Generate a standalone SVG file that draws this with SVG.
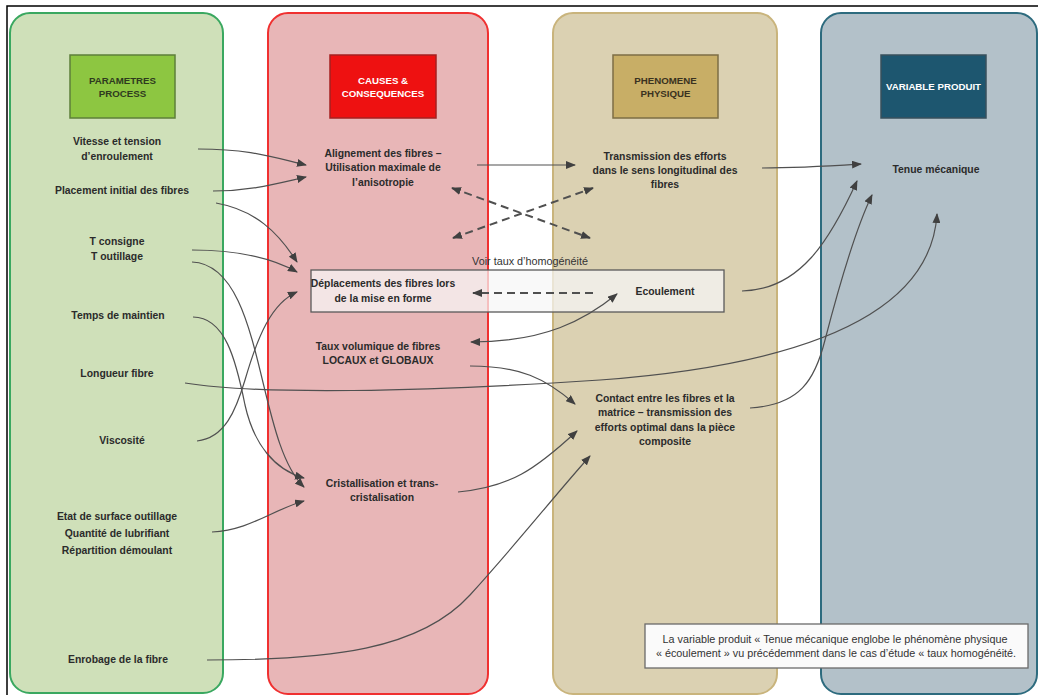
<svg xmlns="http://www.w3.org/2000/svg" width="1038" height="695" viewBox="0 0 1038 695">
<defs>
<style>
.col{stroke-width:2}
.hdr{stroke-width:1.5}
.lbl{font-family:"Liberation Sans",Arial,sans-serif;font-weight:bold;font-size:10.4px;fill:#2b2b2b;text-anchor:middle}
.htx{font-family:"Liberation Sans",Arial,sans-serif;font-weight:bold;font-size:9.7px;text-anchor:middle}
.note{font-family:"Liberation Sans",Arial,sans-serif;font-size:10.8px;fill:#333;text-anchor:middle}
.con path{fill:none;stroke:#505050;stroke-width:1.2}
.con .dash{stroke-width:2;stroke-dasharray:8 5}
</style>
<marker id="ah" viewBox="0 0 10 8" refX="9" refY="4" markerWidth="10" markerHeight="8" markerUnits="userSpaceOnUse" orient="auto-start-reverse">
<path d="M0,0 L10,4 L0,8 z" fill="#404040"/>
</marker>
</defs>
<rect x="0" y="0" width="1038" height="695" fill="#ffffff"/>
<path d="M7,700 L7,6 L1040,6" fill="none" stroke="#000" stroke-width="1.5"/>

<g id="col-process">
<rect class="col" x="10" y="13" width="213" height="680" rx="20" fill="#cfe0b9" stroke="#3aa860"/>
<rect class="hdr" x="70" y="55" width="105" height="63" fill="#8dc641" stroke="#5e7f3a"/>
<text class="htx" fill="#2f3a1f"><tspan x="122.5" y="84">PARAMETRES</tspan><tspan x="122.5" y="97">PROCESS</tspan></text>
</g>
<g id="col-causes">
<rect class="col" x="268" y="13" width="220" height="681" rx="20" fill="#e8b6b7" stroke="#f03030"/>
<rect class="hdr" x="330" y="55" width="106" height="63" fill="#ee1111" stroke="#a52020"/>
<text class="htx" fill="#ffffff"><tspan x="383" y="84">CAUSES &amp;</tspan><tspan x="383" y="97">CONSEQUENCES</tspan></text>
</g>
<g id="col-phenomene">
<rect class="col" x="553" y="13" width="224" height="681" rx="20" fill="#dbd1b2" stroke="#c9b47c"/>
<rect class="hdr" x="613" y="55" width="105" height="63" fill="#c8ae66" stroke="#7d6e45"/>
<text class="htx" fill="#3a3220"><tspan x="665.5" y="84">PHENOMENE</tspan><tspan x="665.5" y="97">PHYSIQUE</tspan></text>
</g>
<g id="col-variable">
<rect class="col" x="821" y="13" width="216" height="681" rx="20" fill="#b3c1c9" stroke="#2d6b7e"/>
<rect class="hdr" x="881" y="55" width="105" height="63" fill="#1d566f" stroke="#38505c"/>
<text class="htx" fill="#ffffff" x="933.5" y="90">VARIABLE PRODUIT</text>
</g>

<g id="n-vitesse"><text class="lbl"><tspan x="117" y="145">Vitesse et tension</tspan><tspan x="117" y="160">d’enroulement</tspan></text></g>
<g id="n-placement"><text class="lbl" x="122" y="194">Placement initial des fibres</text></g>
<g id="n-temp"><text class="lbl"><tspan x="117" y="245">T consigne</tspan><tspan x="117" y="260">T outillage</tspan></text></g>
<g id="n-temps"><text class="lbl" x="118" y="319">Temps de maintien</text></g>
<g id="n-longueur"><text class="lbl" x="117" y="377">Longueur fibre</text></g>
<g id="n-viscosite"><text class="lbl" x="122" y="444">Viscosité</text></g>
<g id="n-surface"><text class="lbl"><tspan x="117" y="520">Etat de surface outillage</tspan><tspan x="117" y="537">Quantité de lubrifiant</tspan><tspan x="117" y="554">Répartition démoulant</tspan></text></g>
<g id="n-enrobage"><text class="lbl" x="118" y="663">Enrobage de la fibre</text></g>

<g id="n-alignement"><text class="lbl"><tspan x="383" y="157">Alignement des fibres –</tspan><tspan x="383" y="171">Utilisation maximale de</tspan><tspan x="383" y="186">l’anisotropie</tspan></text></g>
<g id="n-deplacements">
<rect x="311" y="270" width="413" height="42" fill="#f6f6f6" fill-opacity="0.72" stroke="#5a5a5a" stroke-width="1.3"/>
<text class="lbl"><tspan x="383" y="287">Déplacements des fibres lors</tspan><tspan x="383" y="302">de la mise en forme</tspan></text>
</g>
<g id="n-voir"><text x="530" y="265" style="font-family:'Liberation Sans',Arial,sans-serif;font-size:10.8px;fill:#333;text-anchor:middle">Voir taux d’homogénéité</text></g>
<g id="n-ecoulement"><text class="lbl" x="665" y="295">Ecoulement</text></g>
<g id="n-taux"><text class="lbl"><tspan x="378" y="350">Taux volumique de fibres</tspan><tspan x="378" y="364">LOCAUX et GLOBAUX</tspan></text></g>
<g id="n-cristal"><text class="lbl"><tspan x="382" y="487">Cristallisation et trans-</tspan><tspan x="382" y="501">cristalisation</tspan></text></g>

<g id="n-transmission"><text class="lbl"><tspan x="665" y="160">Transmission des efforts</tspan><tspan x="665" y="174">dans le sens longitudinal des</tspan><tspan x="665" y="188">fibres</tspan></text></g>
<g id="n-contact"><text class="lbl"><tspan x="665" y="402">Contact entre les fibres et la</tspan><tspan x="665" y="416">matrice – transmission des</tspan><tspan x="665" y="431">efforts optimal dans la pièce</tspan><tspan x="665" y="445">composite</tspan></text></g>

<g id="n-tenue"><text class="lbl" x="936" y="173">Tenue mécanique</text></g>

<g id="n-note">
<rect x="645" y="624" width="383" height="44" fill="#fafafa" stroke="#6a6a6a" stroke-width="1.3"/>
<text class="note"><tspan x="835" y="643">La variable produit « Tenue mécanique englobe le phénomène physique</tspan><tspan x="836" y="657">« écoulement » vu  précédemment dans le cas d’étude « taux homogénéité.</tspan></text>
</g>

<g id="connectors" class="con">
<path d="M198,149 C250,149 272,157 306,165" marker-end="url(#ah)"/>
<path d="M213,191 C250,191 275,184 306,177" marker-end="url(#ah)"/>
<path d="M216,203 C255,210 278,232 297,262" marker-end="url(#ah)"/>
<path d="M192,250 C240,250 272,258 297,272" marker-end="url(#ah)"/>
<path d="M192,262 C265,265 255,440 304,487" marker-end="url(#ah)"/>
<path d="M193,317 C225,317 236,360 245,405 C254,445 275,470 304,478" marker-end="url(#ah)"/>
<path d="M197,441 C225,438 236,410 245,380 C258,335 272,303 297,292" marker-end="url(#ah)"/>
<path d="M185,383 C260,395 420,392 600,380 C760,368 930,330 937,214" marker-end="url(#ah)"/>
<path d="M212,532 C250,530 272,510 304,501" marker-end="url(#ah)"/>
<path d="M207,660 C330,660 420,650 470,595 C520,540 555,495 590,456" marker-end="url(#ah)"/>
<path d="M477,165 C510,165 540,165 575,165" marker-end="url(#ah)"/>
<path d="M762,168 C800,168 830,166 861,164" marker-end="url(#ah)"/>
<path d="M742,291 C800,290 830,240 857,181" marker-end="url(#ah)"/>
<path d="M750,408 C800,405 815,380 825,340 C838,290 855,230 872,195" marker-end="url(#ah)"/>
<path d="M470,366 C520,366 545,378 575,404" marker-end="url(#ah)"/>
<path d="M458,492 C510,487 535,470 577,431" marker-end="url(#ah)"/>
<path d="M471,342 C545,342 585,320 617,294" marker-start="url(#ah)" marker-end="url(#ah)"/>
<path class="dash" d="M452,188 L590,238" marker-start="url(#ah)" marker-end="url(#ah)"/>
<path class="dash" d="M453,238 L593,188" marker-start="url(#ah)" marker-end="url(#ah)"/>
<path class="dash" d="M593,293 L473,293" marker-end="url(#ah)"/>
</g>
</svg>
